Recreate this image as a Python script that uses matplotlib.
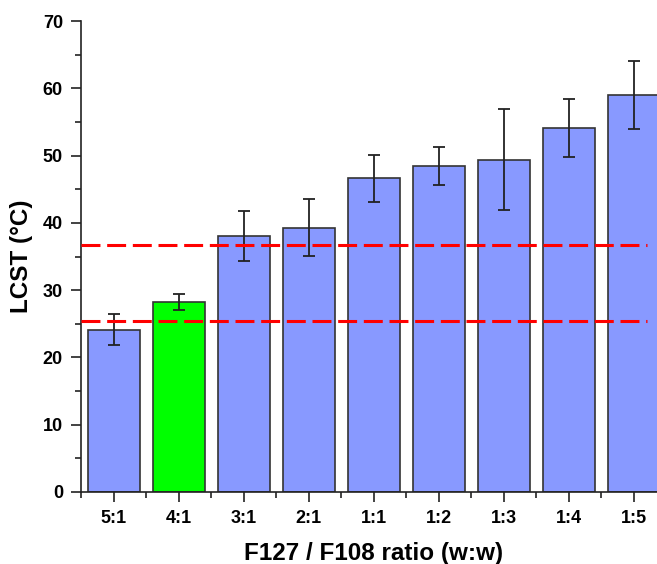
import matplotlib
matplotlib.use("Agg")
import matplotlib.pyplot as plt
from matplotlib.ticker import MultipleLocator, FixedLocator

categories = ["5:1", "4:1", "3:1", "2:1", "1:1", "1:2", "1:3", "1:4", "1:5"]
lcst = [24.1, 28.3, 38.0, 39.3, 46.6, 48.5, 49.4, 54.1, 59.0]
err = [2.3, 1.2, 3.7, 4.2, 3.5, 2.8, 7.5, 4.35, 5.1]
ref_lines = [36.7, 25.4]

plt.rcParams['font.family'] = ['Liberation Sans', 'DejaVu Sans']
plt.rcParams['font.weight'] = 'bold'

fig = plt.figure(figsize=(6.57, 5.64), dpi=100)
ax = fig.add_axes([81/657, 72/564, 585/657, 471/564])

colors = ["#8899FF"] * len(categories)
colors[1] = "#00FF00"
x = list(range(len(categories)))
ax.bar(x, lcst, width=0.8, color=colors, edgecolor="#333333", linewidth=1.2,
       yerr=err, error_kw=dict(ecolor="#222222", elinewidth=1.3, capsize=4, capthick=1.3),
       zorder=2)

for y in ref_lines:
    ax.hlines(y, -0.5, 8.2, colors="#FF0000", linestyles=(0, (6.2, 2.2)), linewidth=2.2, zorder=3)

ax.set_xlim(-0.5, 8.5)
ax.set_ylim(0, 70)
ax.set_xticks(x)
ax.set_xticklabels(categories)
ax.xaxis.set_minor_locator(FixedLocator([i - 0.5 for i in range(len(categories) + 1)]))
ax.yaxis.set_major_locator(MultipleLocator(10))
ax.yaxis.set_minor_locator(MultipleLocator(5))

for s in ["top", "right"]:
    ax.spines[s].set_visible(False)
for s in ["left", "bottom"]:
    ax.spines[s].set_linewidth(1.2)
    ax.spines[s].set_color("#222222")

ax.tick_params(axis="both", which="major", length=7, width=1.2, color="#222222",
               labelsize=13, pad=6)
ax.tick_params(axis="both", which="minor", length=4, width=1.2, color="#222222")
for lab in ax.get_xticklabels() + ax.get_yticklabels():
    lab.set_fontweight("bold")

ax.set_xlabel("F127 / F108 ratio (w:w)", fontsize=17.5, fontweight="bold", labelpad=11)
ax.set_ylabel("LCST (°C)", fontsize=17.5, fontweight="bold", labelpad=7)

fig.savefig("out.png", dpi=100)
